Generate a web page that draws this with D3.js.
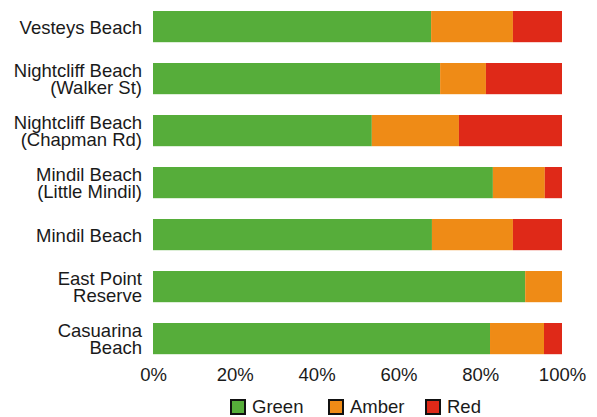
<!DOCTYPE html>
<html>
<head>
<meta charset="utf-8">
<script src="https://cdn.jsdelivr.net/npm/d3@7/dist/d3.min.js"></script>
<style>
  html, body { margin: 0; padding: 0; background: #fff; }
  svg { display: block; }
  text { font-family: "Liberation Sans", Arial, sans-serif; fill: #1a1a1a; }
</style>
</head>
<body>
<svg id="chart" width="597" height="417"></svg>
<script>
// Beach sites, top to bottom; each label may wrap onto two lines
const beaches = [
  ["Vesteys Beach"],
  ["Nightcliff Beach", "(Walker St)"],
  ["Nightcliff Beach", "(Chapman Rd)"],
  ["Mindil Beach", "(Little Mindil)"],
  ["Mindil Beach"],
  ["East Point", "Reserve"],
  ["Casuarina", "Beach"]
];
// Share of samples (%) in each water-quality rating
const green = [68.0, 70.2, 53.5, 83.1, 68.2, 91.0, 82.4];
const amber = [20.0, 11.2, 21.3, 12.7, 19.8, 9.0, 13.2];
const red   = [12.0, 18.6, 25.2, 4.2, 12.0, 0.0, 4.4];
const seriesNames = ["Green", "Amber", "Red"];
const seriesColors = ["#56ad3a", "#ef8b16", "#df2918"];
const xTicks = [0, 20, 40, 60, 80, 100];

const svg = d3.select("#chart");
const keys = beaches.map(b => b.join(" "));

const rows = keys.map((k, i) => ({ key: k, Green: green[i], Amber: amber[i], Red: red[i] }));
const stacked = d3.stack().keys(seriesNames)(rows);

const x = d3.scaleLinear().domain([0, 100]).range([153, 562]);
const y = d3.scaleBand().domain(keys).range([0.6, 364.6]).paddingInner(0.4).paddingOuter(0.2);
const color = d3.scaleOrdinal().domain(seriesNames).range(seriesColors);

// Stacked bars
svg.append("g")
  .selectAll("g")
  .data(stacked)
  .join("g")
  .attr("fill", d => color(d.key))
  .selectAll("rect")
  .data(d => d)
  .join("rect")
  .attr("x", d => x(d[0]))
  .attr("y", d => y(d.data.key))
  .attr("width", d => x(d[1]) - x(d[0]))
  .attr("height", y.bandwidth());

// Category labels, right-aligned against the bars
const fontSize = 18.5;
const lineH = 17.6;
const labelX = 142;
const labels = svg.append("g").attr("font-size", fontSize).attr("text-anchor", "end");
beaches.forEach((lines, i) => {
  const cy = y(keys[i]) + y.bandwidth() / 2;
  const t = labels.append("text")
    .attr("y", cy - (lines.length - 1) * lineH / 2);
  lines.forEach((ln, j) => {
    t.append("tspan").attr("x", labelX).attr("dy", j === 0 ? "0.38em" : lineH).text(ln);
  });
});

// Bottom axis: labels only, no line or tick marks
const xAxis = d3.axisBottom(x).tickValues(xTicks).tickFormat(d => d + "%").tickSize(0).tickPadding(0);
const ax = svg.append("g").attr("transform", "translate(0,368)").call(xAxis);
ax.select(".domain").remove();
ax.selectAll("text")
  .attr("font-family", "Liberation Sans, Arial, sans-serif")
  .attr("font-size", fontSize)
  .attr("fill", "#1a1a1a")
  .attr("dy", "0.71em");

// Legend
const legendX = [230, 328, 425];
const lg = svg.append("g");
seriesNames.forEach((name, i) => {
  lg.append("rect")
    .attr("x", legendX[i] + 1)
    .attr("y", 400)
    .attr("width", 14)
    .attr("height", 14)
    .attr("fill", color(name))
    .attr("stroke", "#111")
    .attr("stroke-width", 2);
  lg.append("text")
    .attr("x", legendX[i] + 22)
    .attr("y", 413)
    .attr("font-size", fontSize)
    .text(name);
});
</script>
</body>
</html>
